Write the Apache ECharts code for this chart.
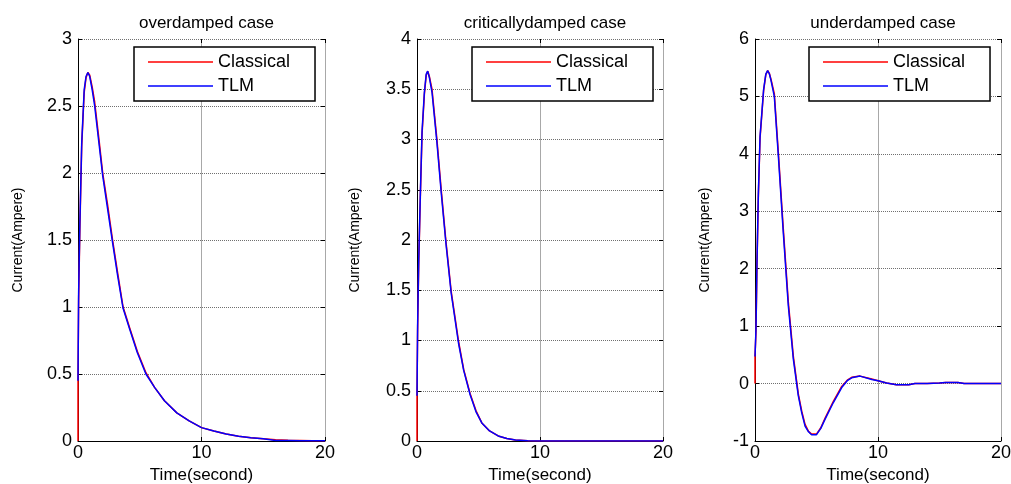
<!DOCTYPE html>
<html>
<head>
<meta charset="utf-8">
<script src="https://cdn.jsdelivr.net/npm/echarts@6/dist/echarts.min.js"></script>
<style>
html,body{margin:0;padding:0;background:#fff;}
#chart{width:1011px;height:484px;}
</style>
</head>
<body>
<div id="chart"></div>
<script>
// ---- data ----
var titles = ['overdamped case', 'criticallydamped case', 'underdamped case'];
var seriesNames = ['Classical', 'TLM'];
var xTicks = [0, 10, 20];
var yRanges = [[0, 3, 0.5], [0, 4, 0.5], [-1, 6, 1]];

var overT         = [0, 0, 0.05, 0.15, 0.3, 0.5, 0.65, 0.8, 0.95, 1.15, 1.35, 1.7, 2.0, 2.4, 2.8, 3.2, 3.65, 4.2, 4.8, 5.5, 6.2, 7, 8, 9, 10, 11, 12, 13, 14, 15, 16, 17, 18, 19, 20];
var overClassical = [0, 0.45, 1.05, 1.58, 2.2, 2.6, 2.71, 2.75, 2.73, 2.64, 2.53, 2.25, 2.0, 1.76, 1.5, 1.26, 1.0, 0.84, 0.67, 0.51, 0.40, 0.30, 0.21, 0.15, 0.10, 0.075, 0.052, 0.036, 0.025, 0.017, 0.01, 0.006, 0.004, 0.002, 0.001];
var overTLM       = [0.45, 0.45, 1.1, 1.62, 2.22, 2.62, 2.72, 2.75, 2.72, 2.62, 2.5, 2.22, 1.98, 1.73, 1.48, 1.24, 0.99, 0.83, 0.66, 0.50, 0.40, 0.30, 0.21, 0.15, 0.10, 0.074, 0.052, 0.036, 0.025, 0.017, 0.004, 0.003, 0.002, 0.001, 0.001];

var critT         = [0, 0, 0.05, 0.14, 0.27, 0.41, 0.6, 0.75, 0.87, 1.0, 1.22, 1.62, 1.97, 2.35, 2.78, 3.38, 3.8, 4.32, 4.8, 5.27, 5.9, 6.6, 7.3, 8, 9, 10, 12, 14, 16, 18, 20];
var critClassical = [0, 0.45, 1.1, 1.75, 2.42, 3.05, 3.45, 3.64, 3.68, 3.63, 3.5, 3.0, 2.5, 1.99, 1.49, 0.99, 0.71, 0.47, 0.30, 0.18, 0.10, 0.05, 0.025, 0.01, 0.003, 0.001, 0, 0, 0, 0, 0];
var critTLM       = [0.45, 0.45, 1.15, 1.8, 2.45, 3.08, 3.47, 3.65, 3.68, 3.62, 3.47, 2.97, 2.47, 1.97, 1.47, 0.97, 0.70, 0.46, 0.29, 0.18, 0.10, 0.05, 0.024, 0.01, 0.003, 0.001, 0, 0, 0, 0, 0];

var underT         = [0, 0, 0.08, 0.16, 0.27, 0.41, 0.7, 0.88, 1.03, 1.17, 1.3, 1.57, 1.9, 2.3, 2.71, 3.12, 3.52, 3.8, 4.07, 4.35, 4.6, 5.0, 5.35, 5.7, 6.37, 7.05, 7.5, 7.86, 8.54, 9.5, 10, 10.7, 11.5, 12.5, 13, 14, 15, 15.5, 16.5, 17, 18, 20];
var underClassical = [0, 0.47, 0.9, 2.06, 3.23, 4.27, 5.1, 5.38, 5.45, 5.4, 5.3, 5.05, 4.02, 2.7, 1.42, 0.47, -0.18, -0.48, -0.71, -0.83, -0.88, -0.88, -0.77, -0.6, -0.31, -0.05, 0.06, 0.11, 0.13, 0.08, 0.05, 0.01, -0.02, -0.02, 0, 0, 0.01, 0.02, 0.02, 0, 0, 0];
var underTLM       = [0.47, 0.47, 0.95, 2.1, 3.28, 4.3, 5.12, 5.39, 5.45, 5.39, 5.28, 5.0, 3.96, 2.63, 1.35, 0.42, -0.21, -0.51, -0.74, -0.84, -0.89, -0.89, -0.78, -0.62, -0.33, -0.07, 0.05, 0.1, 0.13, 0.07, 0.05, 0.01, -0.02, -0.02, 0, 0, 0.01, 0.02, 0.02, 0, 0, 0];

var plotT = [overT, critT, underT];
var plotClassical = [overClassical, critClassical, underClassical];
var plotTLM = [overTLM, critTLM, underTLM];

// ---- layout ----
var grids = [
  {left: 78, top: 39, width: 247, height: 402, outerBoundsMode: 'none', containLabel: false},
  {left: 417, top: 39, width: 246, height: 402, outerBoundsMode: 'none', containLabel: false},
  {left: 755, top: 39, width: 246, height: 402, outerBoundsMode: 'none', containLabel: false}
];
var yNameGaps = [53, 55, 43];
var legendLeft = [134, 472, 809];
var FONT = 'Liberation Sans, Arial, sans-serif';

function pairs(t, v) { return t.map(function (x, i) { return [x, v[i]]; }); }

var xAxes = [], yAxes = [], series = [], legends = [], titleArr = [];
grids.forEach(function (g, i) {
  var yr = yRanges[i];
  xAxes.push({
    gridIndex: i, type: 'value', min: xTicks[0], max: xTicks[xTicks.length - 1], interval: xTicks[1] - xTicks[0],
    position: 'bottom',
    name: 'Time(second)', nameLocation: 'middle', nameGap: 24,
    nameTextStyle: {color: '#000', fontSize: 17, fontFamily: FONT},
    axisLine: {show: true, onZero: false, lineStyle: {color: '#000', width: 1}},
    axisTick: {show: true, inside: true, length: 4, lineStyle: {color: '#000'}},
    axisLabel: {color: '#000', fontSize: 18, fontFamily: FONT, margin: 3},
    splitLine: {show: true, lineStyle: {color: '#a8a8a8', width: 1, type: 'solid'}}
  });
  xAxes.push({
    gridIndex: i, type: 'value', min: xTicks[0], max: xTicks[xTicks.length - 1], interval: xTicks[1] - xTicks[0],
    position: 'top',
    axisLine: {show: false, onZero: false},
    axisTick: {show: true, inside: true, length: 4, lineStyle: {color: '#000'}},
    axisLabel: {show: false},
    splitLine: {show: false}
  });
  yAxes.push({
    gridIndex: i, type: 'value', min: yr[0], max: yr[1], interval: yr[2],
    position: 'left',
    name: 'Current(Ampere)', nameLocation: 'middle', nameGap: yNameGaps[i], nameRotate: 90,
    nameTextStyle: {color: '#000', fontSize: 14, fontFamily: FONT},
    axisLine: {show: true, onZero: false, lineStyle: {color: '#000', width: 1}},
    axisTick: {show: true, inside: true, length: 4, lineStyle: {color: '#000'}},
    axisLabel: {color: '#000', fontSize: 18, fontFamily: FONT, margin: 6},
    splitLine: {show: true, lineStyle: {color: '#707070', width: 1, type: [1, 1]}}
  });
  yAxes.push({
    gridIndex: i, type: 'value', min: yr[0], max: yr[1], interval: yr[2],
    position: 'right',
    axisLine: {show: false, onZero: false},
    axisTick: {show: true, inside: true, length: 4, lineStyle: {color: '#000'}},
    axisLabel: {show: false},
    splitLine: {show: false}
  });
  series.push({
    name: seriesNames[0], type: 'line', xAxisIndex: 2 * i, yAxisIndex: 2 * i,
    data: pairs(plotT[i], plotClassical[i]), symbol: 'none', smooth: false,
    lineStyle: {color: '#ff0000', width: 1.5}, itemStyle: {color: '#ff0000'}, z: 3
  });
  series.push({
    name: seriesNames[1], type: 'line', xAxisIndex: 2 * i, yAxisIndex: 2 * i,
    data: pairs(plotT[i], plotTLM[i]), symbol: 'none', smooth: false,
    lineStyle: {color: '#0000ff', width: 1.5}, itemStyle: {color: '#0000ff'}, z: 4
  });
  legends.push({
    data: seriesNames.map(function (n) { return {name: n, icon: 'rect'}; }),
    orient: 'vertical', left: legendLeft[i], top: 47,
    itemWidth: 65, itemHeight: 1.5, itemGap: 4,
    padding: [5, 25, 5, 14],
    borderColor: '#000', borderWidth: 1.5, backgroundColor: '#fff',
    textStyle: {color: '#000', fontSize: 18, fontFamily: FONT, lineHeight: 20},
    selectedMode: false
  });
  titleArr.push({
    text: titles[i], left: g.left + g.width / 2, top: 10, textAlign: 'center',
    textStyle: {color: '#000', fontSize: 17, fontWeight: 'normal', fontFamily: FONT}
  });
});

var chart = echarts.init(document.getElementById('chart'), null, {renderer: 'canvas'});
chart.setOption({
  animation: false,
  backgroundColor: '#fff',
  title: titleArr,
  grid: grids,
  xAxis: xAxes,
  yAxis: yAxes,
  legend: legends,
  series: series
});
</script>
</body>
</html>
